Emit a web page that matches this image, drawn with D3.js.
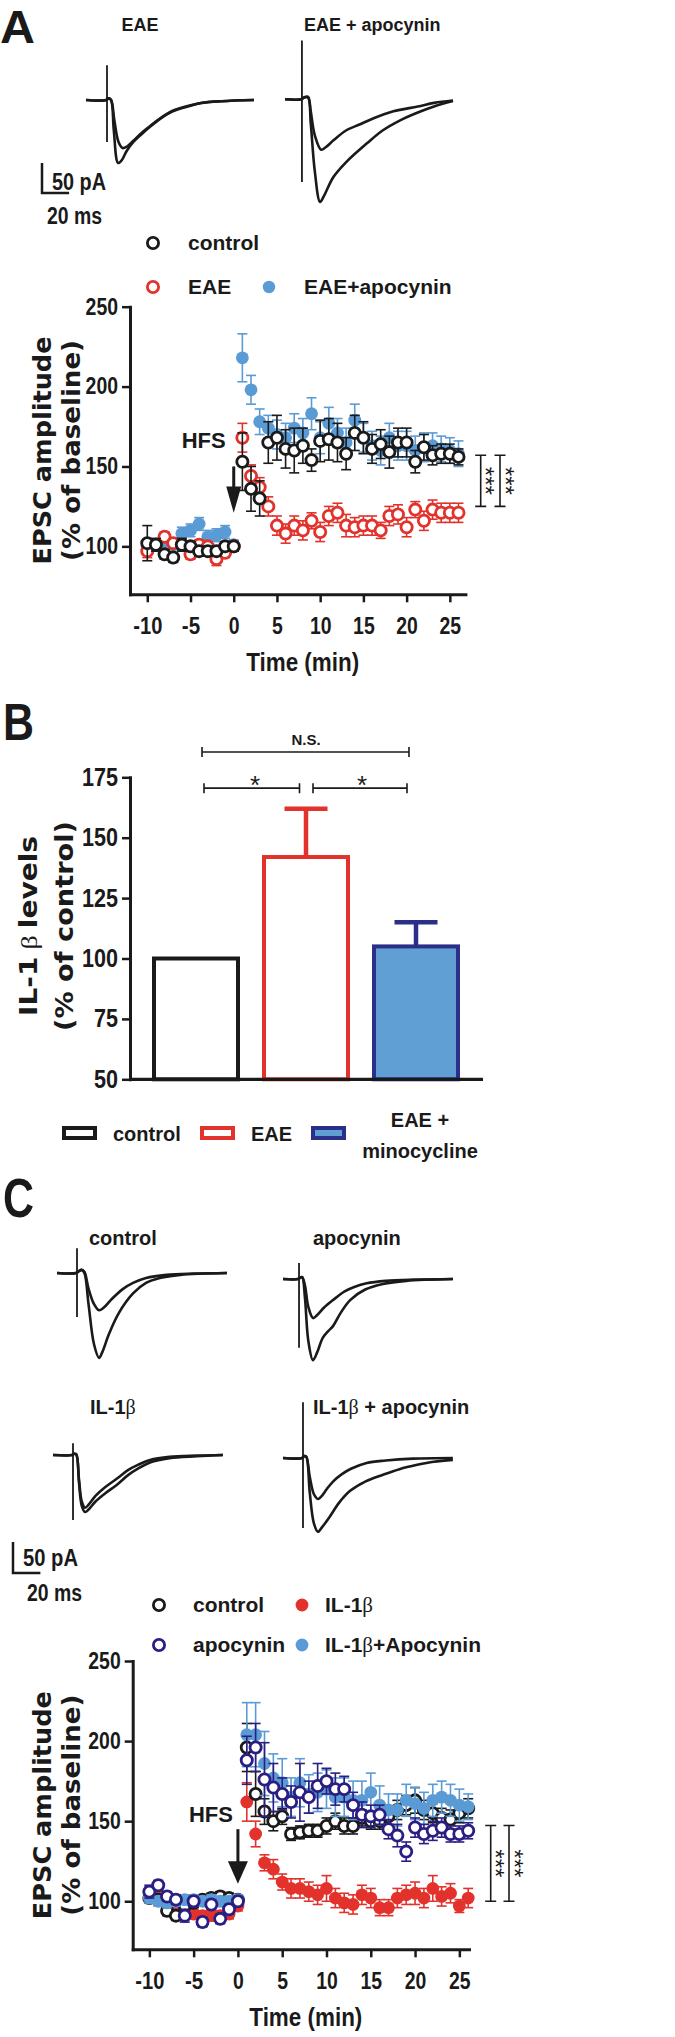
<!DOCTYPE html>
<html>
<head>
<meta charset="utf-8">
<script src="https://cdn.jsdelivr.net/npm/d3@7"></script>
<style>
  body { margin: 0; background: #fff; }
  svg { display: block; }
</style>
</head>
<body>
<div id="chart"></div>
<script>
// ---------- data ----------
const minutes = [-10,-9,-8,-7,-6,-5,-4,-3,-2,-1,0,1,2,3,4,5,6,7,8,9,10,11,12,13,14,15,16,17,18,19,20,21,22,23,24,25,26];

// panel A: EPSC amplitude (% of baseline)
const ctrlA    = [102,101,95,93,101,100,97,97,97,100,100,153,136,130,165,168,161,160,163,154,166,167,165,158,171,168,161,164,159,165,165,153,162,157,158,158,156];
const ctrlAErr = [11,4,3,3,4,3,3,3,3,3,3,18,14,11,13,14,12,14,11,7,13,13,12,10,11,10,9,9,10,9,9,7,8,6,6,6,5];
const eaeA     = [97,101,106,102,101,95,101,100,92,96,100,168,144,137,125,113,108,113,110,116,109,119,121,113,112,113,113,110,119,120,112,123,116,123,121,121,121];
const eaeAErr  = [4,3,3,3,3,3,3,3,4,3,3,9,7,6,6,6,6,6,6,5,6,6,6,7,6,6,6,5,6,6,6,5,6,6,6,6,6];
const apoA     = [100,101,103,101,108,110,114,106,107,109,101,218,198,178,174,170,168,174,171,183,168,177,171,165,179,168,163,160,168,163,163,160,162,163,161,160,158];
const apoAErr  = [3,3,3,3,4,4,4,4,4,4,3,15,9,8,8,9,9,9,9,10,10,10,9,9,10,9,9,9,9,9,9,9,9,8,8,8,8];

// panel B: IL-1 beta levels (% of control)
const groupsB = ['control', 'EAE', 'EAE + minocycline'];
const meansB  = [100, 142, 105];
const semB    = [0, 20, 10];

// panel C: EPSC amplitude (% of baseline)
const ctrlC     = [102,101,94,91,97,99,101,102,103,102,101,196,167,156,150,153,142,143,144,144,147,150,147,147,152,150,150,153,157,160,163,157,155,152,151,155,158];
const ctrlCErr  = [3,3,3,3,3,3,3,3,3,3,3,15,14,8,6,5,4,4,4,4,5,5,5,5,5,5,5,5,6,6,8,6,6,6,6,6,6];
const il1C      = [106,104,100,96,93,92,91,91,91,92,97,162,142,124,120,112,108,108,106,104,108,102,99,98,104,102,96,96,102,104,105,102,108,103,105,97,102];
const il1CErr   = [3,3,3,3,3,3,3,3,3,3,3,12,8,5,6,5,6,6,6,6,8,6,6,6,6,6,5,5,6,6,7,6,8,6,6,4,6];
const apoC      = [106,110,103,101,91,100,87,98,89,95,100,188,196,176,171,167,162,168,165,172,175,170,170,160,154,153,154,145,141,131,146,142,144,146,142,142,144];
const apoCErr   = [4,3,3,3,4,3,3,3,3,3,3,15,15,23,15,10,10,18,10,14,8,10,8,8,8,7,6,6,7,6,6,6,6,6,5,5,5];
const il1ApoC    = [102,100,99,100,101,101,100,101,100,100,101,204,204,186,177,174,165,174,167,168,170,165,165,163,163,168,160,157,157,163,161,158,163,165,163,160,159];
const il1ApoCErr = [3,3,3,3,3,3,3,3,3,3,3,20,20,20,15,15,12,15,12,12,12,12,12,12,12,12,12,10,10,10,10,10,10,10,10,10,8];

// axis ticks
const yTicksTC = [100, 150, 200, 250];
const xTicksTC = [-10, -5, 0, 5, 10, 15, 20, 25];
const yTicksB  = [50, 75, 100, 125, 150, 175];

// example EPSC traces, [ms, pA] key points
const trEaeSmall = [[0,0],[15,0],[16.5,3],[18.5,0],[21,-35],[24,-70],[27,-80],[30,-78],[35,-68],[41,-55],[47,-44],[55,-30],[64,-18],[75,-10],[85,-5],[100,-2],[124,0]];
const trEaeBig   = [[0,0],[15,0],[16.5,3],[18.5,0],[20.5,-50],[23.7,-105],[26.5,-100],[30,-85],[35,-70],[41,-57],[47,-45],[55,-31],[64,-19],[75,-11],[85,-5],[100,-2],[124,0]];
const trEaeApoSmall = [[0,0],[12,0],[14,3],[17,4],[19,-20],[22,-60],[26.7,-84],[30,-80],[36,-68],[45,-52],[55,-42],[65,-32],[80,-20],[98,-12],[110,-6],[124,-2]];
const trEaeApoBig   = [[0,0],[12,0],[14,3],[17,3],[19,-40],[22,-120],[25.9,-171],[29,-160],[35.6,-130],[45,-105],[60.7,-73],[72,-52],[85,-35],[98,-22],[110,-12],[124,-3]];
const trCtrlSmall = [[0,0],[14,0],[16,3],[18,5],[20,2],[23,-25],[27,-50],[30.7,-60],[34,-56],[40,-42],[48,-26],[55.5,-16],[65,-8],[80,-3],[100,-1],[124,0]];
const trCtrlBig   = [[0,0],[14,0],[16,3],[18,5],[20,0],[23,-50],[27,-115],[30.7,-137],[33,-128],[38,-98],[45,-65],[55.5,-33],[65,-16],[75,-8],[90,-3],[124,0]];
const trApoSmall = [[0,0],[11,0],[12.5,2],[14,3],[16,-10],[18.5,-45],[21.9,-63],[25,-58],[30,-46],[36.5,-34],[45,-20],[52,-13],[61,-7],[75,-3],[95,-1],[124,0]];
const trApoBig   = [[0,0],[11,0],[12.5,2],[14,3],[16,-30],[18.5,-100],[21.9,-131],[25,-118],[29,-95],[33,-84],[36.5,-76],[42,-55],[49,-34],[60,-17],[73,-8],[90,-3],[124,0]];
const trIl1Small = [[0,0],[14,0],[15.5,2],[17,1],[19,-40],[21,-75],[23.4,-85],[26,-80],[31,-66],[38,-52],[46.7,-38],[55,-24],[62,-16],[70.8,-8],[85,-3],[105,-1],[124,0]];
const trIl1Big   = [[0,0],[14,0],[15.5,2],[17,1],[19,-45],[21,-82],[23.4,-92],[26,-88],[31,-75],[38,-62],[46.7,-48],[55,-32],[62,-22],[70.8,-12],[85,-5],[105,-2],[124,0]];
const trIl1ApoSmall = [[0,0],[14,0],[15.5,3],[17,2],[19.5,-30],[22.5,-58],[25.5,-66],[28,-62],[32,-50],[36.5,-38],[43,-26],[50,-17],[61,-8],[75,-4],[95,-1],[124,0]];
const trIl1ApoBig   = [[0,0],[14,0],[15.5,3],[17,2],[19.5,-55],[22.5,-105],[25.5,-119],[28,-113],[34,-95],[41,-72],[49,-53],[60,-38],[73,-27],[85,-18],[98,-11],[110,-6],[124,-3]];

// ---------- styles ----------
const ink = '#1a1a1a';
const red = '#e2322b';
const lightBlue = '#5b9bd5';
const navy = '#2a1e82';
const barNavy = '#2b2f8a';
const barBlue = '#5f9fd3';
const fBold = '"Liberation Sans",Arial,sans-serif';
const fWide = '"DejaVu Sans",sans-serif';
const fSerif = '"Liberation Serif","DejaVu Serif",serif';

const svg = d3.select('#chart').append('svg')
  .attr('width', 675)
  .attr('height', 2037);

function label(g, txt, x, y, size, opts = {}) {
  const t = g.append('text')
    .attr('x', x).attr('y', y)
    .attr('font-family', opts.family || fBold)
    .attr('font-weight', opts.weight || 'bold')
    .attr('font-size', size)
    .attr('fill', ink)
    .attr('text-anchor', opts.anchor || 'start')
    .text(txt);
  if (opts.len) t.attr('textLength', opts.len).attr('lengthAdjust', 'spacingAndGlyphs');
  return t;
}

// text with a thin serif beta inside
function betaText(g, parts, x, y, size, anchor) {
  const t = g.append('text')
    .attr('x', x).attr('y', y)
    .attr('font-family', fBold).attr('font-weight', 'bold')
    .attr('font-size', size).attr('fill', ink)
    .attr('text-anchor', anchor || 'start');
  parts.forEach(p => {
    if (p === 'β') t.append('tspan').attr('font-family', fSerif).attr('font-weight', 'normal').text('β');
    else t.append('tspan').text(p);
  });
  return t;
}

function yTitle(g, lines, xs, cy, lens) {
  lines.forEach((ln, i) => {
    const t = g.append('text')
      .attr('transform', `translate(${xs[i]},${cy}) rotate(-90)`)
      .attr('dy', '0.36em')
      .attr('text-anchor', 'middle')
      .attr('font-family', fWide).attr('font-weight', 'bold')
      .attr('font-size', 24).attr('fill', ink)
      .attr('textLength', lens[i]).attr('lengthAdjust', 'spacingAndGlyphs');
    ln.forEach(p => {
      if (p === 'β') t.append('tspan').attr('font-family', fSerif).attr('font-weight', 'normal').text(' β ');
      else t.append('tspan').text(p);
    });
  });
}

// narrow-looking bold tick labels: Arial-like glyphs squeezed to the measured width
function styleAxis(a, size, digitW) {
  a.select('.domain').attr('stroke', ink).attr('stroke-width', 3).attr('stroke-linecap', 'square');
  a.selectAll('.tick line').attr('stroke', ink).attr('stroke-width', 2.5);
  a.selectAll('.tick text')
    .attr('font-family', fBold).attr('font-weight', 'bold')
    .attr('font-size', size).attr('fill', ink)
    .attr('lengthAdjust', 'spacingAndGlyphs')
    .attr('textLength', function () {
      const s = this.textContent;
      return s.replace('-', '').length * digitW + (s.includes('-') ? 7.5 : 0);
    });
}

// ---------- traces ----------
function drawTrace(g, pts, ox, oy, sc) {
  const x = d3.scaleLinear().domain([0, 124]).range([ox, ox + 124 * sc.ms]);
  const y = d3.scaleLinear().domain([0, -100]).range([oy, oy + 100 * sc.pa]);
  const line = d3.line().x(d => x(d[0])).y(d => y(d[1])).curve(d3.curveCatmullRom.alpha(0.5));
  g.append('path').attr('d', line(pts))
    .attr('fill', 'none').attr('stroke', ink).attr('stroke-width', 2.6).attr('stroke-linejoin', 'round');
  return { x, y };
}

function traceSet(g, small, big, ox, oy, sc, art) {
  const s = drawTrace(g, big, ox, oy, sc);
  drawTrace(g, small, ox, oy, sc);
  g.append('line')
    .attr('x1', s.x(art[0])).attr('x2', s.x(art[0]))
    .attr('y1', s.y(art[1])).attr('y2', s.y(art[2]))
    .attr('stroke', ink).attr('stroke-width', 1.8);
}

function scaleBar(g, ox, oy, sc) {
  g.append('path')
    .attr('d', `M${ox},${oy - 50 * sc.pa}V${oy}H${ox + 20 * sc.ms}`)
    .attr('fill', 'none').attr('stroke', ink).attr('stroke-width', 2.5);
}

// ---------- time course panel ----------
function timeCourse(c) {
  const g = svg.append('g');
  const x = d3.scaleLinear().domain(c.xDomain).range([c.left, c.right]);
  const y = d3.scaleLinear().domain([70, 250]).range([c.bottom, c.top]);

  c.series.forEach(s => {
    const sg = g.append('g');
    const pts = minutes.map((m, i) => ({ m, v: s.values[i], e: s.errors[i] }));
    sg.selectAll(null).data(pts).join('line')
      .attr('x1', d => x(d.m)).attr('x2', d => x(d.m))
      .attr('y1', d => y(d.v - d.e)).attr('y2', d => y(d.v + d.e))
      .attr('stroke', s.color).attr('stroke-width', 1.6);
    [-1, 1].forEach(k => {
      sg.selectAll(null).data(pts).join('line')
        .attr('x1', d => x(d.m) - 5).attr('x2', d => x(d.m) + 5)
        .attr('y1', d => y(d.v + k * d.e)).attr('y2', d => y(d.v + k * d.e))
        .attr('stroke', s.color).attr('stroke-width', 1.6);
    });
    sg.selectAll(null).data(pts).join('circle')
      .attr('cx', d => x(d.m)).attr('cy', d => y(d.v))
      .attr('r', s.open ? 5.6 : 6.4)
      .attr('fill', s.open ? '#fff' : s.color)
      .attr('stroke', s.open ? s.color : 'none')
      .attr('stroke-width', 2.8);
  });

  const ya = g.append('g').attr('transform', `translate(${c.left},0)`)
    .call(d3.axisLeft(y).tickValues(yTicksTC).tickSize(8).tickPadding(4).tickSizeOuter(0));
  const xa = g.append('g').attr('transform', `translate(0,${c.bottom})`)
    .call(d3.axisBottom(x).tickValues(xTicksTC).tickFormat(d => String(d)).tickSize(8).tickPadding(15).tickSizeOuter(0));
  styleAxis(ya, 23, 10.8);
  styleAxis(xa, 23, 10.8);

  // x title
  label(g, 'Time (min)', (c.left + c.right) / 2 + 5, c.bottom + 77, 25, { anchor: 'middle', len: 113 });

  // y title
  yTitle(g, [['EPSC amplitude'], ['(% of baseline)']], [42, 71], (c.top + c.bottom) / 2, [228, 221]);

  // HFS marker
  label(g, 'HFS', x(0) - c.hfsGap, y(c.hfsY) + 8, 22, { anchor: 'end' });
  const a = c.arrow;
  g.append('line').attr('x1', x(0)).attr('x2', x(0))
    .attr('y1', y(a[0])).attr('y2', y(a[1]) + 1)
    .attr('stroke', ink).attr('stroke-width', 3);
  g.append('path')
    .attr('d', `M${x(0) - a[3]},${y(a[1])}L${x(0) + a[3]},${y(a[1])}L${x(0)},${y(a[2])}Z`)
    .attr('fill', ink);

  // significance brackets
  c.brackets.forEach(b => {
    g.append('path')
      .attr('d', `M${b.x - 5.5},${y(b.hi)}H${b.x + 5.5}M${b.x},${y(b.hi)}V${y(b.lo)}M${b.x - 5.5},${y(b.lo)}H${b.x + 5.5}`)
      .attr('fill', 'none').attr('stroke', ink).attr('stroke-width', 1.6);
    g.append('text')
      .attr('transform', `translate(${b.x + 10},${(y(b.hi) + y(b.lo)) / 2}) rotate(90)`)
      .attr('dy', '0.55em')
      .attr('text-anchor', 'middle')
      .attr('font-family', fBold).attr('font-size', 24).attr('fill', ink)
      .text('***');
  });
  return { g, x, y };
}

// ================= PANEL A =================
const gA = svg.append('g');
label(gA, 'A', 0, 43, 46, { len: 35 });
label(gA, 'EAE', 140, 31, 18, { anchor: 'middle' });
label(gA, 'EAE + apocynin', 304, 31, 18);

const scA = { ms: 1.355, pa: 0.6 };
traceSet(gA, trEaeSmall, trEaeBig, 86, 100, scA, [15.5, 58, -70]);
traceSet(gA, trEaeApoSmall, trEaeApoBig, 285, 99.3, scA, [12.5, 98, -138]);
scaleBar(gA, 42, 193, scA);
label(gA, '50 pA', 52, 190, 23, { len: 54 });
label(gA, '20 ms', 47, 224, 23, { len: 55 });

// legend A
const legA = [
  { name: 'control', color: ink, open: true, x: 153, y: 243 },
  { name: 'EAE', color: red, open: true, x: 153, y: 287 },
  { name: 'EAE+apocynin', color: lightBlue, open: false, x: 269, y: 287 }
];
legA.forEach(l => {
  gA.append('circle').attr('cx', l.x).attr('cy', l.y)
    .attr('r', l.open ? 5.6 : 6.2)
    .attr('fill', l.open ? '#fff' : l.color)
    .attr('stroke', l.open ? l.color : 'none').attr('stroke-width', 2.8);
  label(gA, l.name, l.x + 35, l.y + 7, 21);
});

timeCourse({
  xDomain: [-12, 26.8], left: 130, right: 465.4,
  top: 306.7, bottom: 594.3,
  series: [
    { values: apoA, errors: apoAErr, color: lightBlue, open: false },
    { values: eaeA, errors: eaeAErr, color: red, open: true },
    { values: ctrlA, errors: ctrlAErr, color: ink, open: true }
  ],
  hfsY: 166.7, hfsGap: 8,
  arrow: [150, 137.5, 121, 7.5],
  brackets: [{ x: 480.7, hi: 157, lo: 125 }, { x: 500, hi: 157, lo: 125 }]
});

// ================= PANEL B =================
const gB = svg.append('g');
label(gB, 'B', 3, 740, 51, { len: 31 });

const xB = d3.scaleBand().domain(groupsB).range([141, 471]).paddingInner(0.2).paddingOuter(0.1);
const yB = d3.scaleLinear().domain([50, 175]).range([1079.3, 777.3]);
const strokeB = [ink, red, barNavy];
const fillB = ['#fff', '#fff', barBlue];

groupsB.forEach((grp, i) => {
  const cx = xB(grp) + xB.bandwidth() / 2;
  if (semB[i] > 0) {
    gB.append('line').attr('x1', cx).attr('x2', cx)
      .attr('y1', yB(meansB[i])).attr('y2', yB(meansB[i] + semB[i]))
      .attr('stroke', strokeB[i]).attr('stroke-width', 4.5);
    gB.append('line').attr('x1', cx - 21.5).attr('x2', cx + 21.5)
      .attr('y1', yB(meansB[i] + semB[i])).attr('y2', yB(meansB[i] + semB[i]))
      .attr('stroke', strokeB[i]).attr('stroke-width', 4.5);
  }
});
gB.selectAll('rect.bar').data(groupsB).join('rect')
  .attr('x', d => xB(d) + 2)
  .attr('width', xB.bandwidth() - 4)
  .attr('y', (d, i) => yB(meansB[i]))
  .attr('height', (d, i) => yB(50) - yB(meansB[i]))
  .attr('fill', (d, i) => fillB[i])
  .attr('stroke', (d, i) => strokeB[i])
  .attr('stroke-width', 4);

const yaB = gB.append('g').attr('transform', 'translate(130,0)')
  .call(d3.axisLeft(yB).tickValues(yTicksB).tickSize(8).tickPadding(4).tickSizeOuter(0));
styleAxis(yaB, 25, 12);
gB.append('line').attr('x1', 130).attr('x2', 483).attr('y1', yB(50)).attr('y2', yB(50))
  .attr('stroke', ink).attr('stroke-width', 3.2);

yTitle(gB, [['IL-1', 'β', 'levels'], ['(% of control)']], [28, 64], 926, [180, 210]);

// significance (B)
const cB = groupsB.map(gr => xB(gr) + xB.bandwidth() / 2);
function hBracket(x1, x2, v) {
  const yy = yB(v);
  gB.append('path')
    .attr('d', `M${x1},${yy - 5}V${yy + 5}M${x1},${yy}H${x2}M${x2},${yy - 5}V${yy + 5}`)
    .attr('fill', 'none').attr('stroke', ink).attr('stroke-width', 1.6);
}
hBracket(cB[0] + 6, cB[2] - 7, 185.5);
hBracket(cB[0] + 8, cB[1] - 6.5, 170.5);
hBracket(cB[1] + 7, cB[2] - 9, 170.5);
label(gB, 'N.S.', (cB[0] + cB[2]) / 2, yB(185.5) - 7, 15, { anchor: 'middle' });
label(gB, '*', (cB[0] + cB[1]) / 2 + 4, yB(170.5) + 6, 26, { anchor: 'middle', weight: 'normal' });
label(gB, '*', (cB[1] + cB[2]) / 2 + 1, yB(170.5) + 6, 26, { anchor: 'middle', weight: 'normal' });

// legend B
const legB = [
  { name: 'control', x: 62 },
  { name: 'EAE', x: 200 },
  { name: '', x: 311 }
];
legB.forEach((l, i) => {
  gB.append('rect').attr('x', l.x + 2).attr('y', 1128).attr('width', 31).attr('height', 10)
    .attr('fill', fillB[i]).attr('stroke', strokeB[i]).attr('stroke-width', 4);
  if (l.name) label(gB, l.name, l.x + 51, 1141, 20);
});
label(gB, 'EAE +', 420, 1127, 20, { anchor: 'middle' });
label(gB, 'minocycline', 420, 1158, 20, { anchor: 'middle' });

// ================= PANEL C =================
const gC = svg.append('g');
label(gC, 'C', 3, 1217, 56, { len: 31 });
label(gC, 'control', 89, 1245, 20);
label(gC, 'apocynin', 313, 1245, 20);
betaText(gC, ['IL-1', 'β'], 90, 1414, 20);
betaText(gC, ['IL-1', 'β', ' + apocynin'], 313, 1414, 20);

const scC = { ms: 1.37, pa: 0.62 };
traceSet(gC, trCtrlSmall, trCtrlBig, 57, 1273, scC, [14.6, 40, -71]);
traceSet(gC, trApoSmall, trApoBig, 283, 1279, scC, [11.7, 26, -111]);
traceSet(gC, trIl1Small, trIl1Big, 53, 1455, scC, [14.6, 19, -105]);
traceSet(gC, trIl1ApoSmall, trIl1ApoBig, 283, 1458, scC, [14.6, 90, -113]);
scaleBar(gC, 13, 1573, scC);
label(gC, '50 pA', 23, 1566, 23, { len: 55 });
label(gC, '20 ms', 27, 1601, 23, { len: 55 });

// legend C
const legC = [
  { parts: ['control'], color: ink, open: true, x: 159, y: 1605 },
  { parts: ['IL-1', 'β'], color: red, open: false, x: 302, y: 1605 },
  { parts: ['apocynin'], color: navy, open: true, x: 159, y: 1645 },
  { parts: ['IL-1', 'β', '+Apocynin'], color: lightBlue, open: false, x: 302, y: 1645 }
];
legC.forEach(l => {
  gC.append('circle').attr('cx', l.x).attr('cy', l.y)
    .attr('r', l.open ? 5.6 : 6.4)
    .attr('fill', l.open ? '#fff' : l.color)
    .attr('stroke', l.open ? l.color : 'none').attr('stroke-width', 2.8);
  betaText(gC, l.parts, l.x + (l.open ? 34 : 23), l.y + 7, 21);
});

timeCourse({
  xDomain: [-11.88, 26.09], left: 132.7, right: 469,
  top: 1661, bottom: 1949.3,
  series: [
    { values: il1C, errors: il1CErr, color: red, open: false },
    { values: ctrlC, errors: ctrlCErr, color: ink, open: true },
    { values: il1ApoC, errors: il1ApoCErr, color: lightBlue, open: false },
    { values: apoC, errors: apoCErr, color: navy, open: true }
  ],
  hfsY: 154.6, hfsGap: 5,
  arrow: [145, 125, 111, 10],
  brackets: [{ x: 490.7, hi: 147.3, lo: 100 }, { x: 509, hi: 147.3, lo: 100 }]
});
</script>
</body>
</html>
